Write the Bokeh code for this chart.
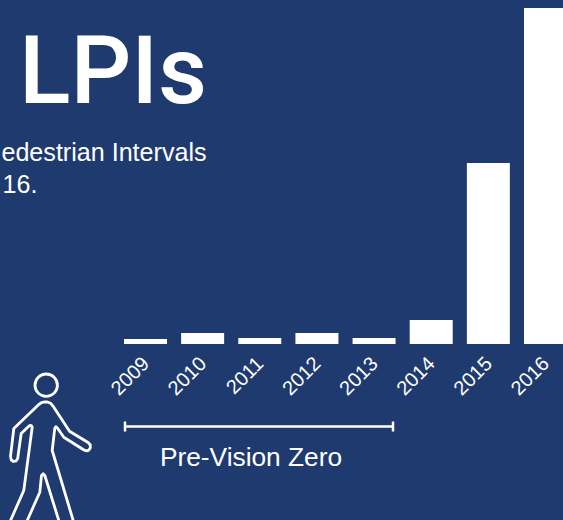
from bokeh.plotting import figure
from bokeh.models import Range1d, LinearAxis, FixedTicker, BasicTickFormatter
from bokeh.core.properties import value
from bokeh.embed import file_html
from bokeh.resources import INLINE
import math

years = [2009, 2010, 2011, 2012, 2013, 2014, 2015, 2016]
lpis = [5, 11, 6, 11, 6, 24, 181, 336]

title_text = "LPIs"
subtitle_lines = ["edestrian Intervals", "16."]
era_label = "Pre-Vision Zero"

BG = "#1F3A6E"
FONT = "Liberation Sans"

# pedestrian pictogram outline (decoration, in page pixels)
body_x = [10, 23.3, 31.7, 31.2, 30, 28.5, 20.7, 18, 17.2, 15.5, 13, 10.8, 10, 13.3, 38.3, 41, 43.5, 47, 50, 53.3, 69, 88, 89.8, 89.8, 88, 86, 83.5, 63.3, 56.7, 55.3, 54.3, 51.7, 72.7]
body_y = [520, 490, 426.7, 425.5, 424.8, 425.5, 433, 452, 458, 460.5, 461, 459.5, 456, 428, 404, 402.2, 401.5, 401.5, 402.7, 406.7, 430.7, 442.3, 444.5, 447.5, 449.8, 450.3, 449.5, 436.7, 427.3, 426.2, 427.7, 450, 520]
leg_x = [26.7, 39.3, 41, 42.7, 44.3, 58.3]
leg_y = [520, 491.7, 475, 473.3, 475, 520]

W, H = 563, 520
px_per_year = 400 / 7
x0 = 2009 - 145 / px_per_year

p = figure(width=W, height=H, toolbar_location=None, output_backend="svg",
           x_range=Range1d(x0, x0 + W / px_per_year),
           y_range=Range1d(343.5 - H, 343.5),
           min_border=0, background_fill_color=BG, border_fill_color=BG,
           outline_line_color=None, x_axis_location=None, y_axis_location=None)
p.margin = (0, 0, 0, 0)
p.styles = {"background-color": BG}
p.grid.visible = False
p.extra_x_ranges["page"] = Range1d(0, W)
p.extra_y_ranges["page"] = Range1d(H, 0)

p.vbar(x=years, top=lpis, bottom=0, width=43 / px_per_year, fill_color="white", line_color=None)

axis = LinearAxis(ticker=FixedTicker(ticks=years), fixed_location=0,
                  axis_line_color=None, major_tick_line_color=None, minor_tick_line_color=None,
                  major_label_text_color="white", major_label_text_font=FONT,
                  major_label_text_font_size="20px", major_label_orientation=math.pi / 4,
                  major_label_standoff=10,
                  formatter=BasicTickFormatter(use_scientific=False, precision=0))
p.add_layout(axis, "below")

def page_text(x, y, s, size, align="left", font=FONT):
    p.text(x=[x], y=[y], text=[s], text_color="white", text_font=value(font),
           text_font_size=size, text_align=align, text_baseline="alphabetic",
           x_range_name="page", y_range_name="page")

page_text(18.5, 70, title_text, "95px", font="Roboto Medium")
page_text(206, 151.6, subtitle_lines[0], "25.1px", "right")
page_text(37, 183, subtitle_lines[1], "25.1px", "right")
page_text(250.5, 456.5, era_label, "26.3px", "center")

# bracket
p.segment(x0=[124.5, 124.5, 392.5], y0=[426, 421, 421], x1=[392.5, 124.5, 392.5], y1=[426, 431, 431],
          line_color="white", line_width=2.5, x_range_name="page", y_range_name="page")

# pedestrian
p.circle(x=[45.7], y=[384.7], radius=11.2, fill_color=None, line_color="white", line_width=2.8,
         x_range_name="page", y_range_name="page")
p.line(body_x, body_y, line_color="white", line_width=2.8, line_join="round", line_cap="round",
       x_range_name="page", y_range_name="page")
p.line(leg_x, leg_y, line_color="white", line_width=2.8, line_join="round", line_cap="round",
       x_range_name="page", y_range_name="page")

open("out.html", "w").write(file_html(p, INLINE))
